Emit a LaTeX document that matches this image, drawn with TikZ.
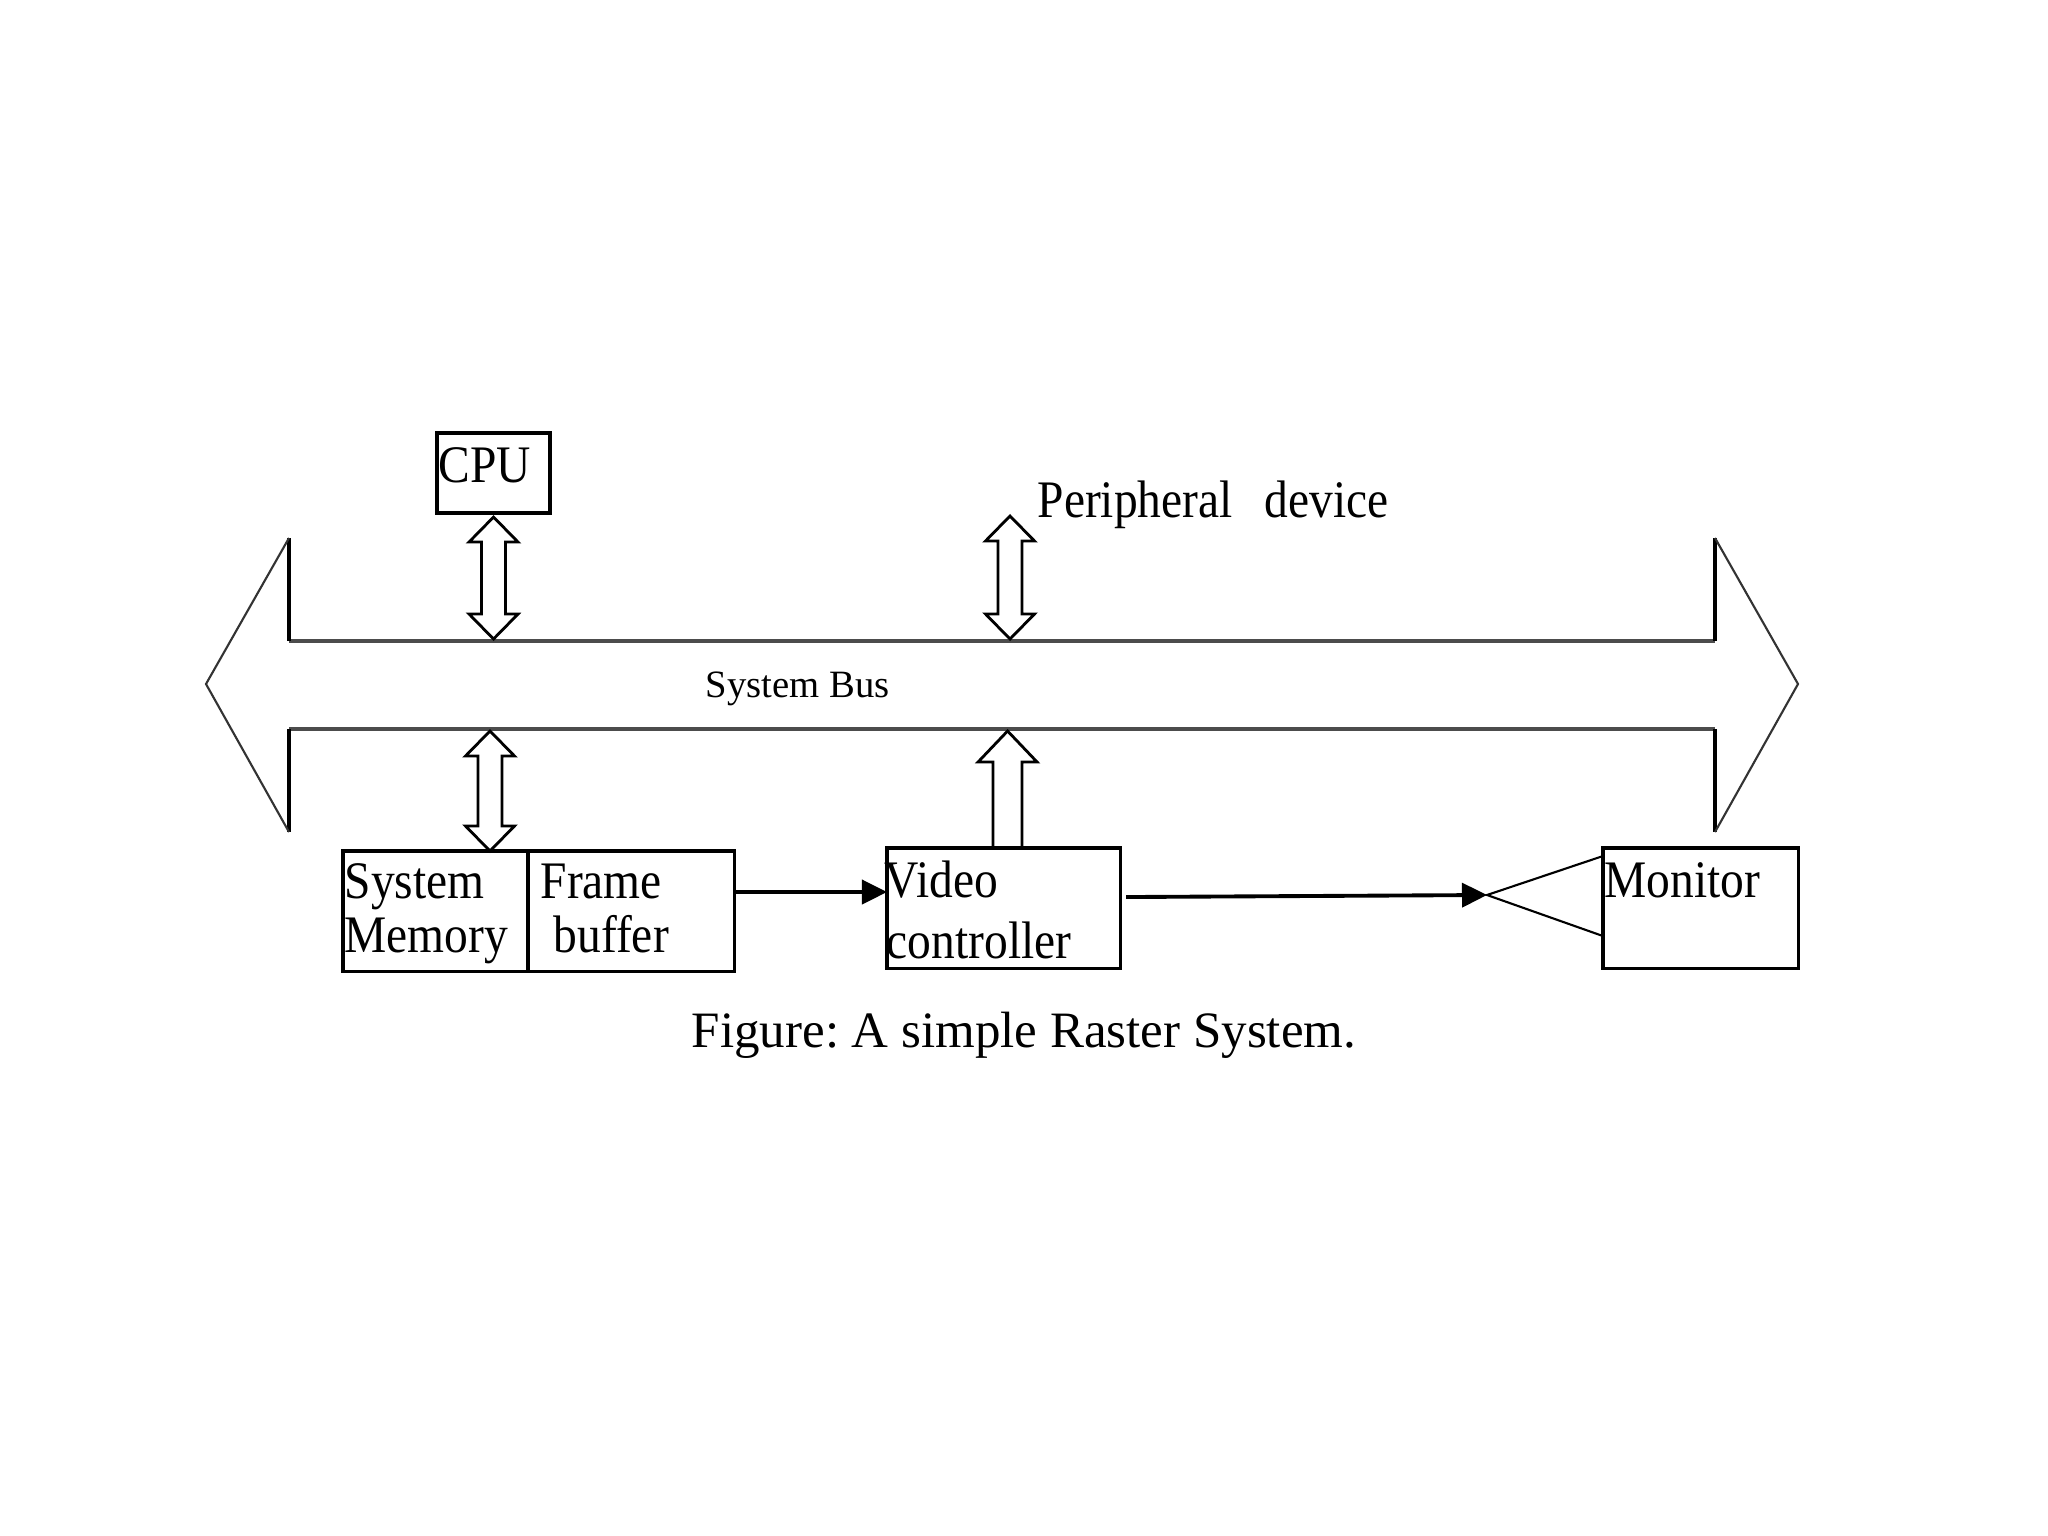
\documentclass[tikz,border=0pt]{standalone}
\usepackage{fontspec}
\setmainfont{Liberation Serif}
\newfontfamily\narrowfont[FakeStretch=0.9]{Liberation Serif}
\usetikzlibrary{calc,arrows.meta}
\frenchspacing
\def\dblarrow[#1](#2)(#3){\draw[#1] (#2) -- ($(#2)+(24.5,25)$) -- ($(#2)+(12,25)$) -- ($(#3)+(12,-25)$) -- ($(#3)+(24.5,-25)$) -- (#3) -- ($(#3)+(-24.5,-25)$) -- ($(#3)+(-12,-25)$) -- ($(#2)+(-12,25)$) -- ($(#2)+(-24.5,25)$) -- cycle;}

\begin{document}
\begin{tikzpicture}[x=0.01cm, y=-0.01cm,
		box/.style={draw, line width=0.9pt, inner sep=0, outer sep=0, anchor=north west},
		lbl/.style={inner sep=0, anchor=base west, font=\fontsize{15}{18}\narrowfont},
		dbl/.style={line width=0.8pt},
		busline/.style={line width=1.2pt, color=black!70},
		sigline/.style={line width=1.1pt, -{Triangle[length=0.25cm, width=0.24cm]}}]
		%%%%% START %%%%%
		
		\fill[white] (0,0) rectangle (2048,1536);
		
		\coordinate (bustop) at (0,639);
		\coordinate (busbot) at (0,731);
		
		\draw[busline] (289,641) -- (1715,641);
		\draw[busline] (289,729) -- (1715,729);
		\draw[line width=0.9pt] (289,538) -- (289,641);
		\draw[line width=0.9pt] (289,729) -- (289,832);
		\draw[line width=0.9pt] (1715,538) -- (1715,641);
		\draw[line width=0.9pt] (1715,729) -- (1715,832);
		\draw[line width=0.6pt, color=black!80] (289,538) -- (206,684) -- (289,832);
		\draw[line width=0.6pt, color=black!80] (1715,538) -- (1798,684) -- (1715,832);
		\node[inner sep=0, anchor=base west, font=\fontsize{11}{13}\selectfont] (bustxt) at (705,697) {System Bus};
		
		\node[box, minimum width=1.13cm, minimum height=0.80cm] (cpu) at (437,433) {};
		\node[lbl] (cputxt) at (438,482) {CPU};
		
		\node[box, minimum width=1.85cm, minimum height=1.20cm] (mem) at (343,851) {};
		\node[lbl] (memtxt) at (344,898) {System};
		\node[lbl] (memtxtb) at (344,952) {Memory};
		\node[box, minimum width=2.06cm, minimum height=1.20cm] (fb) at (528,851) {};
		\node[lbl] (fbtxt) at (540,898) {Frame};
		\node[lbl] (fbtxtb) at (553,952) {buffer};
		
		\node[box, minimum width=2.33cm, minimum height=1.20cm] (video) at (887,848) {};
		\node[lbl] (videotxt) at (884,897) {Video};
		\node[lbl] (videotxtb) at (886,958) {controller};
		
		\node[box, minimum width=1.95cm, minimum height=1.20cm] (monitor) at (1603,848) {};
		\node[lbl] (monitortxt) at (1604,897) {Monitor};
		
		\coordinate (perT) at (1010,516);
		\coordinate (perB) at (perT |- bustop);
		\node[lbl] (pertxt) at (1037,517) {Peripheral\hspace{0.6em}device};
		
		\coordinate (cpuT) at ([yshift=-0.04cm]cpu.south);
		\coordinate (cpuB) at (cpuT |- bustop);
		\dblarrow[dbl](cpuT)(cpuB);
		\dblarrow[dbl](perT)(perB);
		
		\coordinate (memT) at (490,731);
		\coordinate (memB) at (memT |- mem.north);
		\dblarrow[dbl](memT)(memB);
		
		\coordinate (vidB) at ([xshift=0.04cm]video.north);
		\coordinate (vidT) at (vidB |- busbot);
		\draw[dbl] ($(vidB)+(-14.5,0)$) -- ($(vidT)+(-14.5,31)$) -- ($(vidT)+(-29.5,31)$) -- (vidT) -- ($(vidT)+(29.5,31)$) -- ($(vidT)+(14.5,31)$) -- ($(vidB)+(14.5,0)$);
		
		\draw[sigline] ([yshift=0.19cm]fb.east) -- ([yshift=0.16cm]video.west);
		
		\coordinate (spk) at (1487,895);
		\draw[sigline] ([xshift=0.06cm, yshift=0.11cm]video.east) -- (spk);
		\draw[line width=0.6pt] ([yshift=-0.08cm]monitor.north west) -- (spk) -- ([yshift=0.32cm]monitor.south west);
		
		\node[inner sep=0, anchor=base, font=\fontsize{14.5}{17}\selectfont] (caption) at (1024,1047) {Figure: A simple Raster System.};
		
		%%%%% END %%%%%
\end{tikzpicture}
\end{document}
